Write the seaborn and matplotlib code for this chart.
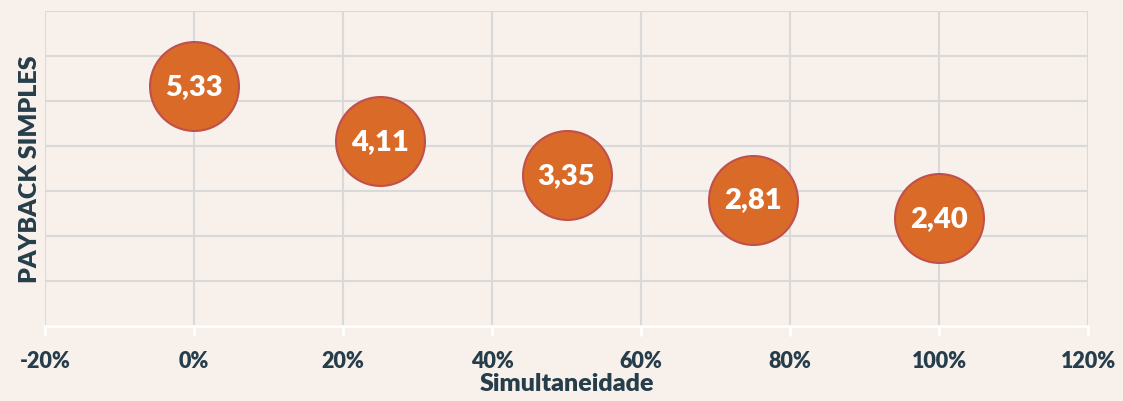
import matplotlib
matplotlib.use("Agg")
import matplotlib.pyplot as plt
import seaborn as sns
import pandas as pd
from matplotlib.ticker import FuncFormatter, MultipleLocator

# data
simultaneidade = [0.0, 0.25, 0.50, 0.75, 1.00]
payback = [5.33, 4.11, 3.35, 2.81, 2.40]
labels = ["5,33", "4,11", "3,35", "2,81", "2,40"]

bg = "#F8F0EA"
text_col = "#263E4B"
grid_col = "#D9D9D9"

sns.set_theme(style="whitegrid")
plt.rcParams['font.family'] = ['Lato', 'DejaVu Sans']

df = pd.DataFrame({"sim": simultaneidade, "payback": payback, "label": labels})

fig = plt.figure(figsize=(11.23, 4.02), dpi=100, facecolor=bg)
ax = fig.add_axes([0.0401, 0.1866, 0.9288, 0.7835])
ax.set_facecolor(bg)

sns.scatterplot(data=df, x="sim", y="payback", s=4100, color="#DA6A28",
                edgecolor="#C0504D", linewidth=1.5, ax=ax, zorder=3, clip_on=False)

for _, r in df.iterrows():
    ax.text(r["sim"], r["payback"], r["label"], ha="center", va="center",
            color="white", fontsize=21, fontweight="heavy", zorder=4)

ax.set_xlim(-0.2, 1.2)
ax.set_ylim(0, 7)
ax.xaxis.set_major_locator(MultipleLocator(0.2))
ax.yaxis.set_major_locator(MultipleLocator(1))
ax.xaxis.set_major_formatter(FuncFormatter(lambda v, p: f"{v*100:.0f}%"))
ax.set_yticklabels([])
ax.grid(True, color=grid_col, linewidth=1.5)

for s in ["top", "right", "left"]:
    ax.spines[s].set_visible(False)
ax.spines["bottom"].set_color("white")
ax.spines["bottom"].set_linewidth(2)
ax.tick_params(axis="x", colors="white", length=7, width=2, bottom=True, pad=10,
               labelcolor=text_col, labelsize=15.5)
ax.tick_params(axis="y", length=0, pad=0)
for t in ax.get_xticklabels():
    t.set_fontweight("heavy")

ax.set_xlabel("Simultaneidade", fontsize=18, fontweight="heavy", color=text_col, labelpad=1)
ax.set_ylabel("PAYBACK SIMPLES", fontsize=18, fontweight="heavy", color=text_col, labelpad=3)

fig.savefig("out.png", dpi=100, facecolor=bg)
